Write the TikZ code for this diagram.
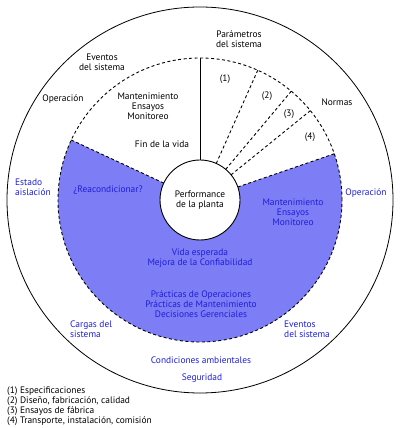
\documentclass[tikz,border=0pt]{standalone}
\usepackage{fontspec}
\setmainfont{PT Sans}
\usetikzlibrary{calc}
\definecolor{fillblue}{RGB}{125,125,245}
\definecolor{txtblue}{RGB}{30,30,220}
\begin{document}
\begin{tikzpicture}[x=1pt,y=1pt,
  lbl/.style={font=\fontsize{9.4}{10}\selectfont, align=center, inner sep=0pt, text=black},
  blbl/.style={lbl, text=txtblue},
  dashline/.style={dash pattern=on 3pt off 2.5pt, line width=0.9pt},
  solidline/.style={line width=0.9pt}]
\useasboundingbox (0,0) rectangle (400,428);
\coordinate (O) at (200,228);
% outer circle
\draw[line width=0.8pt] (O) circle[radius=193];
% blue sector
\fill[fillblue] (O) ++(19:142) arc[start angle=19, end angle=-205, radius=142] -- (O) -- cycle;
% dashed circle
\draw[dashline] (O) circle[radius=142];
% radial lines
\draw[dashline] ($(O)+(155:40)$) -- ($(O)+(155:142)$);
\draw[dashline] ($(O)+(19:40)$) -- ($(O)+(19:142)$);
\draw[dashline] ($(O)+(66:40)$) -- ($(O)+(66:142)$);
\draw[dashline] ($(O)+(50:40)$) -- ($(O)+(50:142)$);
\draw[dashline] ($(O)+(39:40)$) -- ($(O)+(39:142)$);
\draw[solidline] ($(O)+(90:40)$) -- ($(O)+(90:142)$);
% inner circle
\node[circle, draw, line width=0.9pt, fill=white, minimum size=80pt, inner sep=0pt, lbl] (perf) at (O) {Performance\\de la planta};
% black labels
\node[lbl] (param) at (239,389) {Parámetros\\del sistema};
\node[lbl] (n1) at (225,349) {(1)};
\node[lbl] (n2) at (267,332) {(2)};
\node[lbl] (n3) at (289,314) {(3)};
\node[lbl] (n4) at (310,291) {(4)};
\node[lbl] (normas) at (337,326) {Normas};
\node[lbl] (evb) at (102,366) {Eventos\\del sistema};
\node[lbl] (opb) at (63,329) {Operación};
\node[lbl] (mantb) at (148,322) {Mantenimiento\\Ensayos\\Monitoreo};
\node[lbl] (fin) at (162,284) {Fin de la vida};
% blue labels
\node[blbl, anchor=west, align=left] (estado) at (15,241) {Estado\\aislación};
\node[blbl] (reac) at (108,238) {¿Reacondicionar?};
\node[blbl] (mantw) at (293,216) {Mantenimiento\\Ensayos\\Monitoreo};
\node[blbl] (opw) at (366,235) {Operación};
\node[blbl] (vida) at (200,170) {Vida esperada\\Mejora de la Confiabilidad};
\node[blbl] (prac) at (201,124) {Prácticas de Operaciones\\Prácticas de Mantenimiento\\Decisiones Gerenciales};
\node[blbl, anchor=west, align=left] (cargas) at (70,99) {Cargas del\\sistema};
\node[blbl, anchor=west, align=left] (evw) at (284,99) {Eventos\\del sistema};
\node[blbl] (cond) at (201,68) {Condiciones ambientales};
\node[blbl] (seg) at (202,50) {Seguridad};
% legend
\node[lbl, anchor=west, align=left] (legend) at (7,22) {(1) Especificaciones\\(2) Diseño, fabricación, calidad\\(3) Ensayos de fábrica\\(4) Transporte, instalación, comisión};
\end{tikzpicture}
\end{document}
